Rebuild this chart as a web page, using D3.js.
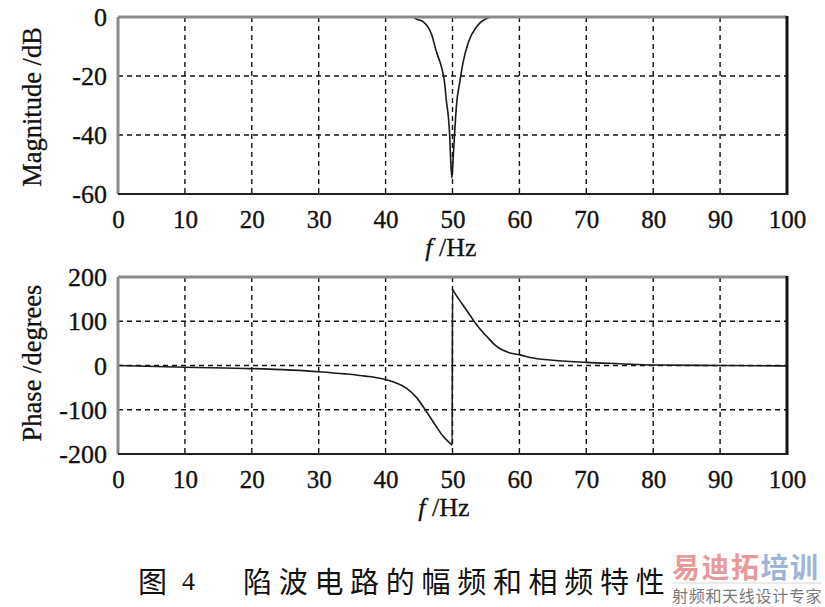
<!DOCTYPE html>
<html>
<head>
<meta charset="utf-8">
<script src="https://cdn.jsdelivr.net/npm/d3@7/dist/d3.min.js"></script>
<style>
  html, body { margin: 0; padding: 0; background: #fff; }
  svg { display: block; }
  .tick text { font-family: "Liberation Serif", "Times New Roman", serif; fill: #111; }
</style>
</head>
<body>
<svg id="chart" width="825" height="607"></svg>
<script>
// ---- data ----
const xTicks = [0, 10, 20, 30, 40, 50, 60, 70, 80, 90, 100];
const magTicks = [0, -20, -40, -60];
const phaseTicks = [200, 100, 0, -100, -200];

const magFreq = [0, 10, 20, 30, 40, 44, 44.7, 45.6, 46.9, 47.6, 48.4, 48.8, 49.1, 49.4, 49.6, 49.7, 49.9,
                 50.1, 50.3, 50.6, 51.1, 51.6, 52.4, 53.6, 54.9, 56, 60, 70, 80, 90, 100];
const magDb   = [0, 0, 0, 0, 0, 0, -0.8, -1.6, -6.1, -11.8, -17.4, -21.9, -28.7, -34.3, -41, -46.8, -54.6,
                 -47.8, -40, -29.8, -21.9, -15.2, -8.4, -3.3, -0.7, 0, 0, 0, 0, 0, 0];

const phaseFreq = [0, 10, 20, 30, 34, 37, 39.5, 41.5, 43.1, 44.6, 46.1, 47.4, 48.6, 49.6, 49.95,
                   50.0, 50.2, 51.4, 52.6, 53.6, 55.1, 56.6, 58.6, 60.1, 61.6, 65, 70, 75, 80, 90, 100];
const phaseDeg  = [0, -4, -7, -14, -19, -24, -30, -39, -51, -72, -104, -134, -160, -175, -180,
                   172, 167, 140, 114, 92, 66, 43, 28, 24, 18, 12, 7, 4, 1, 0, -1];

const magTitle = "Magnitude /dB";
const phaseTitle = "Phase /degrees";
const caption = "陷波电路的幅频和相频特性";

// ---- drawing ----
const svg = d3.select("#chart");
const serif = '"Liberation Serif", "Times New Roman", serif';
const fmt = d => String(d);   // plain hyphen minus, as in the original

const x = d3.scaleLinear().domain([0, 100]).range([118, 787]);

function panel(yScale, yTicks, freq, vals, title, titleCenterY, xlabelCx, xlabelY) {
  const [yBot, yTop] = yScale.range();
  const g = svg.append("g");

  // grid
  const gridX = xTicks.filter(t => t > 0 && t < 100);
  const innerY = yTicks.filter(t => t !== yScale.domain()[0] && t !== yScale.domain()[1]);
  g.selectAll("line.vg").data(gridX).join("line")
    .attr("x1", d => x(d)).attr("x2", d => x(d))
    .attr("y1", yTop).attr("y2", yBot)
    .attr("stroke", "#111").attr("stroke-width", 1.4).attr("stroke-dasharray", "5,4");
  g.selectAll("line.hg").data(innerY).join("line")
    .attr("x1", x(0)).attr("x2", x(100))
    .attr("y1", d => yScale(d)).attr("y2", d => yScale(d))
    .attr("stroke", "#111").attr("stroke-width", 1.4).attr("stroke-dasharray", "5,4");

  // curve
  const pts = freq.map((f, i) => [f, vals[i]]);
  g.append("path").datum(pts)
    .attr("fill", "none").attr("stroke", "#1a1a1a").attr("stroke-width", 1.6)
    .attr("d", d3.line().curve(d3.curveMonotoneX).x(d => x(d[0])).y(d => yScale(d[1])));

  // frame: top/left grey (scan texture), right/bottom black
  g.append("line").attr("x1", x(0)).attr("x2", x(100)).attr("y1", yTop).attr("y2", yTop)
    .attr("stroke", "#8a8a8a").attr("stroke-width", 3);
  g.append("line").attr("x1", x(0)).attr("x2", x(0)).attr("y1", yTop).attr("y2", yBot)
    .attr("stroke", "#8a8a8a").attr("stroke-width", 3);
  g.append("line").attr("x1", x(100)).attr("x2", x(100)).attr("y1", yTop - 1).attr("y2", yBot + 1)
    .attr("stroke", "#111").attr("stroke-width", 3);
  g.append("line").attr("x1", x(0)).attr("x2", x(100)).attr("y1", yBot).attr("y2", yBot)
    .attr("stroke", "#222").attr("stroke-width", 2);

  // x axis labels
  const ax = g.append("g").attr("transform", `translate(0,${yBot})`)
    .call(d3.axisBottom(x).tickValues(xTicks).tickSize(0).tickFormat(fmt));
  ax.select(".domain").remove();
  ax.selectAll("text").attr("y", 34).attr("dy", null)
    .style("font-size", "25px").style("font-family", serif)
    .attr("stroke", "#111").attr("stroke-width", 0.35);

  // y axis labels
  const ay = g.append("g").attr("transform", `translate(${x(0)},0)`)
    .call(d3.axisLeft(yScale).tickValues(yTicks).tickSize(0).tickFormat(fmt));
  ay.select(".domain").remove();
  ay.selectAll("text").attr("x", -11).attr("dy", "0.33em")
    .style("font-size", "26px").style("font-family", serif)
    .attr("stroke", "#111").attr("stroke-width", 0.35);

  // y title
  svg.append("text")
    .attr("transform", `translate(41,${titleCenterY}) rotate(-90)`)
    .attr("text-anchor", "middle")
    .style("font-family", serif).style("font-size", "26.5px").attr("fill", "#111")
    .attr("stroke", "#111").attr("stroke-width", 0.3)
    .text(title);

  // x title  f /Hz
  const xt = svg.append("text")
    .attr("x", xlabelCx).attr("y", xlabelY).attr("text-anchor", "middle")
    .style("font-family", serif).style("font-size", "26px").attr("fill", "#111")
    .attr("stroke", "#111").attr("stroke-width", 0.3);
  xt.append("tspan").style("font-style", "italic").text("f");
  xt.append("tspan").text(" /Hz");
}

const yMag = d3.scaleLinear().domain([-60, 0]).range([194, 17]);
const yPh = d3.scaleLinear().domain([-200, 200]).range([454, 277]);

panel(yMag, magTicks, magFreq, magDb, magTitle, 107, 451, 256);
panel(yPh, phaseTicks, phaseFreq, phaseDeg, phaseTitle, 363, 444, 516);

// caption
svg.append("text").attr("x", 138).attr("y", 580).attr("dominant-baseline", "central")
  .style("font-family", '"Noto Sans CJK SC", sans-serif').style("font-size", "29px").attr("fill", "#111")
  .text("图");
svg.append("text").attr("x", 182).attr("y", 581).attr("dominant-baseline", "central")
  .style("font-family", serif).style("font-size", "26px").attr("fill", "#111")
  .text("4");
svg.append("text").attr("x", 243).attr("y", 580).attr("dominant-baseline", "central")
  .style("font-family", '"Noto Sans CJK SC", sans-serif').style("font-size", "29px")
  .style("letter-spacing", "6.7px").attr("fill", "#111")
  .text(caption);

// watermark
const wm = svg.append("text").attr("x", 672).attr("y", 566).attr("dominant-baseline", "central")
  .style("font-family", '"Noto Sans CJK SC", sans-serif').style("font-size", "28px")
  .style("font-weight", "bold").style("letter-spacing", "1.5px");
wm.append("tspan").attr("fill", "#e89a9a").text("易迪拓");
wm.append("tspan").attr("fill", "#9db3d8").text("培训");
svg.append("line").attr("x1", 672).attr("x2", 822).attr("y1", 583).attr("y2", 583)
  .attr("stroke", "#d6d6d6").attr("stroke-width", 1);
svg.append("text").attr("x", 672).attr("y", 595).attr("dominant-baseline", "central")
  .style("font-family", '"Noto Sans CJK SC", sans-serif').style("font-size", "16px")
  .style("letter-spacing", "0.7px").attr("fill", "#7a7a7a")
  .text("射频和天线设计专家");
</script>
</body>
</html>
